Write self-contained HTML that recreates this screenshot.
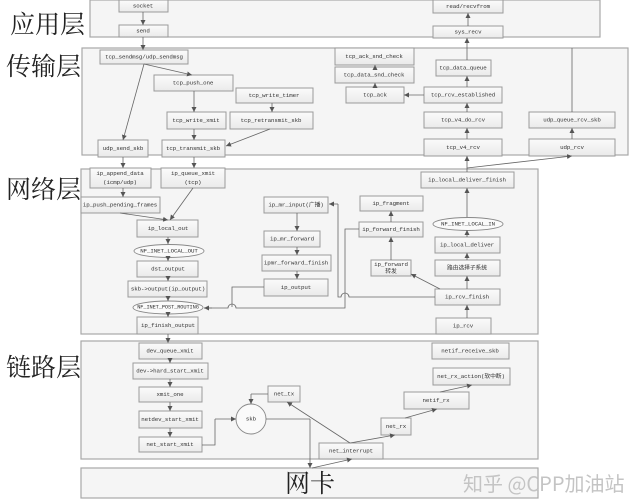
<!DOCTYPE html>
<html><head><meta charset="utf-8"><style>
html,body{margin:0;padding:0;background:#fff;}
svg{display:block;}
.ly{fill:#f5f5f5;stroke:#a8a8a8;stroke-width:1.2;}
.b{fill:url(#g);stroke:#9a9a9a;stroke-width:1;}
.t{font-family:"Liberation Mono","Noto Sans CJK SC",monospace;font-size:5.8px;letter-spacing:-0.1px;fill:#333;text-anchor:middle;dominant-baseline:central;}
.big{font-family:"Liberation Serif","Noto Serif CJK SC","Noto Sans CJK SC",serif;font-size:25px;fill:#222;}
.l{stroke:#666;stroke-width:0.8;fill:none;marker-end:url(#a);}
.n{stroke:#666;stroke-width:0.8;fill:none;}
</style></head><body>
<svg width="631" height="500" viewBox="0 0 631 500" xmlns="http://www.w3.org/2000/svg">
<defs>
<linearGradient id="g" x1="0" y1="0" x2="0" y2="1"><stop offset="0" stop-color="#fbfbfb"/><stop offset="1" stop-color="#eaeaea"/></linearGradient>
<marker id="a" markerWidth="6" markerHeight="6" refX="5" refY="3" orient="auto" markerUnits="userSpaceOnUse"><path d="M0,0.5 L5,3 L0,5.5 z" fill="#555"/></marker>
</defs>
<!-- layers -->
<rect class="ly" x="90" y="0" width="510" height="37"/>
<rect class="ly" x="82" y="48" width="546" height="107"/>
<rect class="ly" x="81" y="169" width="457" height="165"/>
<rect class="ly" x="81" y="341" width="457" height="118"/>
<rect class="ly" x="81" y="468" width="457" height="30"/>
<text class="big" x="10" y="33">应用层</text>
<text class="big" x="6" y="75">传输层</text>
<text class="big" x="6" y="198">网络层</text>
<text class="big" x="6" y="376">链路层</text>
<text class="big" x="285" y="492">网卡</text>
<text x="463" y="491" style="font-family:'Noto Sans CJK SC',sans-serif;font-size:20px;fill:#c4c4c4;">知乎 @CPP加油站</text>

<!-- app -->
<rect class="b" x="119" y="0" width="49" height="12"/><text class="t" x="143" y="6">socket</text>
<rect class="b" x="119" y="25" width="49" height="12"/><text class="t" x="143" y="31">send</text>
<rect class="b" x="433" y="0" width="70" height="13"/><text class="t" x="468" y="6.5">read/recvfrom</text>
<rect class="b" x="433" y="26" width="70" height="12"/><text class="t" x="468" y="32">sys_recv</text>
<path class="l" d="M143,12 V25"/><path class="l" d="M143,37 V50"/><path class="l" d="M468,26 V13"/>

<!-- transport -->
<rect class="b" x="100" y="50" width="88" height="14"/><text class="t" x="144" y="57">tcp_sendmsg/udp_sendmsg</text>
<rect class="b" x="154" y="75" width="79" height="16"/><text class="t" x="193" y="83">tcp_push_one</text>
<rect class="b" x="236" y="88" width="77" height="15"/><text class="t" x="274" y="95.5">tcp_write_timer</text>
<rect class="b" x="167" y="112" width="59" height="17"/><text class="t" x="196" y="120.5">tcp_write_xmit</text>
<rect class="b" x="230" y="112" width="83" height="17"/><text class="t" x="271" y="120.5">tcp_retransmit_skb</text>
<rect class="b" x="98" y="140" width="50" height="17"/><text class="t" x="123" y="148.5">udp_send_skb</text>
<rect class="b" x="162" y="140" width="63" height="17"/><text class="t" x="193" y="148.5">tcp_transmit_skb</text>
<path class="l" d="M144,64 L123,140"/><path class="l" d="M144,64 L192,75"/>
<path class="l" d="M194,91 V112"/><path class="l" d="M194,129 V140"/>
<path class="l" d="M272,103 V112"/><path class="l" d="M270,129 L226,146"/>

<rect class="b" x="335" y="48" width="79" height="17"/><text class="t" x="374" y="56.5">tcp_ack_snd_check</text>
<rect class="b" x="335" y="67" width="79" height="16"/><text class="t" x="374" y="75">tcp_data_snd_check</text>
<rect class="b" x="346" y="87" width="58" height="16"/><text class="t" x="375" y="95">tcp_ack</text>
<rect class="b" x="436" y="60" width="55" height="16"/><text class="t" x="463" y="68">tcp_data_queue</text>
<rect class="b" x="424" y="87" width="78" height="16"/><text class="t" x="463" y="95">tcp_rcv_established</text>
<rect class="b" x="424" y="112" width="78" height="16"/><text class="t" x="463" y="120">tcp_v4_do_rcv</text>
<rect class="b" x="424" y="139" width="78" height="17"/><text class="t" x="463" y="147.5">tcp_v4_rcv</text>
<rect class="b" x="529" y="112" width="86" height="16"/><text class="t" x="572" y="120">udp_queue_rcv_skb</text>
<rect class="b" x="529" y="139" width="86" height="17"/><text class="t" x="572" y="147.5">udp_rcv</text>
<path class="l" d="M424,95 H404"/><path class="l" d="M375,87 V83"/><path class="l" d="M375,67 V65"/>
<path class="l" d="M467,87 V76"/><path class="l" d="M467,60 V38"/>
<path class="l" d="M467,112 V103"/><path class="l" d="M467,139 V128"/>
<path class="l" d="M572,139 V128"/><path class="n" d="M572,112 V48"/>

<!-- network -->
<rect class="b" x="90" y="168" width="61" height="20"/><text class="t" x="120" y="173.5">ip_append_data</text><text class="t" x="120" y="182.5">(icmp/udp)</text>
<rect class="b" x="161" y="168" width="64" height="20"/><text class="t" x="193" y="173.5">ip_queue_xmit</text><text class="t" x="193" y="182.5">(tcp)</text>
<rect class="b" x="81" y="197" width="79" height="16"/><text class="t" x="120" y="205">ip_push_pending_frames</text>
<rect class="b" x="137" y="220" width="61" height="17"/><text class="t" x="168" y="228.5">ip_local_out</text>
<ellipse cx="169" cy="251" rx="35" ry="6.5" fill="#fafafa" stroke="#888" stroke-width="0.9"/><text class="t" x="169" y="251">NF_INET_LOCAL_OUT</text>
<rect class="b" x="137" y="261" width="61" height="16"/><text class="t" x="168" y="269">dst_output</text>
<rect class="b" x="128" y="281" width="79" height="16"/><text class="t" x="168" y="289">skb-&gt;output(ip_output)</text>
<ellipse cx="168" cy="307.5" rx="35" ry="6.5" fill="#fafafa" stroke="#888" stroke-width="0.9"/><text class="t" x="168" y="307.5" style="font-size:5.3px">NF_INET_POST_ROUTING</text>
<rect class="b" x="137" y="317" width="61" height="17"/><text class="t" x="168" y="325.5">ip_finish_output</text>
<path class="l" d="M123,157 V168"/><path class="l" d="M194,157 V168"/>
<path class="l" d="M123,188 V197"/><path class="l" d="M120,213 L168,220"/><path class="l" d="M193,188 L170,220"/>
<path class="l" d="M168,237 V244"/><path class="l" d="M168,258 V261"/><path class="l" d="M168,277 V281"/>
<path class="l" d="M168,297 V301"/><path class="l" d="M168,314 V317"/><path class="l" d="M168,334 V343"/>

<rect class="b" x="264" y="197" width="64" height="16"/><text class="t" x="296" y="205">ip_mr_input(广播)</text>
<rect class="b" x="264" y="231" width="56" height="16"/><text class="t" x="292" y="239">ip_mr_forward</text>
<rect class="b" x="262" y="255" width="69" height="16"/><text class="t" x="296" y="263">ipmr_forward_finish</text>
<rect class="b" x="264" y="279" width="64" height="17"/><text class="t" x="296" y="287.5">ip_output</text>
<path class="l" d="M297,213 V231"/><path class="l" d="M297,247 V255"/><path class="l" d="M297,271 V279"/>
<path class="n" d="M264,287 H232 V307"/>

<rect class="b" x="421" y="172" width="93" height="16"/><text class="t" x="467" y="180">ip_local_deliver_finish</text>
<rect class="b" x="360" y="196" width="63" height="15"/><text class="t" x="391" y="203.5">ip_fragment</text>
<rect class="b" x="359" y="222" width="64" height="15"/><text class="t" x="391" y="229.5">ip_forward_finish</text>
<ellipse cx="468" cy="224" rx="35" ry="6.5" fill="#fafafa" stroke="#888" stroke-width="0.9"/><text class="t" x="468" y="224">NF_INET_LOCAL_IN</text>
<rect class="b" x="435" y="237" width="65" height="16"/><text class="t" x="467" y="245">ip_local_deliver</text>
<rect class="b" x="435" y="260" width="65" height="16"/><text class="t" x="467" y="268">路由选择子系统</text>
<rect class="b" x="371" y="260" width="40" height="16"/><text class="t" x="391" y="264.5">ip_forward</text><text class="t" x="391" y="271.5">转发</text>
<rect class="b" x="435" y="289" width="65" height="16"/><text class="t" x="467" y="297">ip_rcv_finish</text>
<rect class="b" x="436" y="318" width="55" height="16"/><text class="t" x="463" y="326">ip_rcv</text>
<path class="l" d="M467,318 V305"/><path class="l" d="M467,289 V276"/><path class="l" d="M467,260 V253"/>
<path class="l" d="M467,237 V230"/><path class="l" d="M467,217 V188"/>
<path class="l" d="M467,172 V156"/><path class="l" d="M467,168 L572,156"/>
<path class="l" d="M440,289 L411,274"/><path class="l" d="M391,260 V237"/><path class="l" d="M391,222 V211"/>
<path class="n" d="M359,229 H345 V308 H236 a4,4 0 0 0 -8,0 H204"/>
<path class="l" d="M212,308 H204"/>
<path class="n" d="M435,297 H349 a4,4 0 0 0 -8,0 H338 V204"/><path class="l" d="M338,204 H329"/>

<!-- link -->
<rect class="b" x="139" y="343" width="63" height="16"/><text class="t" x="170" y="351">dev_queue_xmit</text>
<rect class="b" x="133" y="363" width="75" height="16"/><text class="t" x="170" y="371">dev-&gt;hard_start_xmit</text>
<rect class="b" x="139" y="387" width="63" height="15"/><text class="t" x="170" y="394.5">xmit_one</text>
<rect class="b" x="139" y="411" width="63" height="17"/><text class="t" x="170" y="419.5">netdev_start_xmit</text>
<rect class="b" x="139" y="437" width="63" height="15"/><text class="t" x="170" y="444.5">net_start_xmit</text>
<path class="l" d="M170,359 V363"/><path class="l" d="M170,379 V387"/><path class="l" d="M170,402 V411"/><path class="l" d="M170,428 V437"/>
<circle cx="251" cy="419" r="15" fill="#fafafa" stroke="#888" stroke-width="0.9"/><text class="t" x="251" y="419">skb</text>
<rect class="b" x="268" y="386" width="32" height="16"/><text class="t" x="284" y="394">net_tx</text>
<rect class="b" x="432" y="343" width="77" height="16"/><text class="t" x="470" y="351">netif_receive_skb</text>
<rect class="b" x="433" y="368" width="77" height="17"/><text class="t" x="471" y="376.5">net_rx_action(软中断)</text>
<rect class="b" x="404" y="392" width="65" height="17"/><text class="t" x="436" y="400.5">netif_rx</text>
<rect class="b" x="381" y="418" width="30" height="17"/><text class="t" x="396" y="426.5">net_rx</text>
<rect class="b" x="319" y="443" width="64" height="16"/><text class="t" x="351" y="451">net_interrupt</text>
<path class="n" d="M202,445 H215 V419"/><path class="l" d="M215,419 H236"/>
<path class="n" d="M268,394 H251"/><path class="l" d="M251,394 V404"/>
<path class="n" d="M266,419 H310"/><path class="l" d="M310,419 V468"/>
<path class="l" d="M312,468 L352,459"/>
<path class="l" d="M350,443 L287,402"/><path class="l" d="M350,443 L395,435"/>
<path class="l" d="M405,418 L437,409"/><path class="l" d="M440,392 L472,385"/>
</svg>
</body></html>
